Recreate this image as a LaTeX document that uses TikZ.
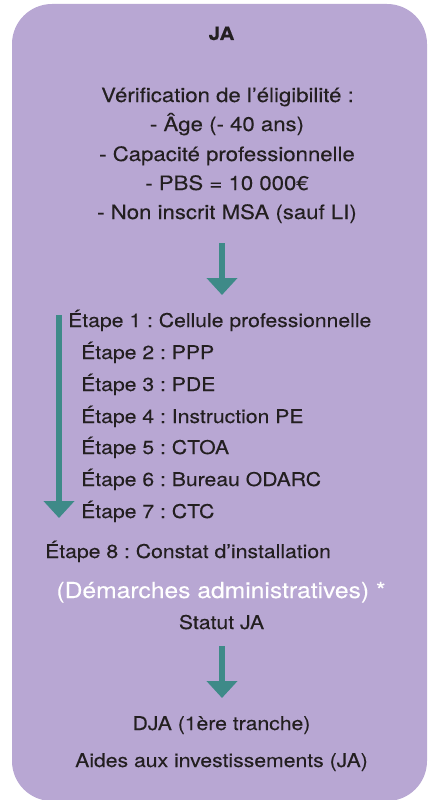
\documentclass[tikz,border=0pt]{standalone}
\usepackage{fontspec}
\setmainfont{TeX Gyre Heros}[FakeStretch=1.12, FakeBold=0.2]
\frenchspacing
\usepackage{tikz}
\usetikzlibrary{arrows.meta}
\definecolor{lavande}{HTML}{B8A7D3}
\definecolor{sarcelle}{HTML}{3E8A88}
\definecolor{texte}{HTML}{231F20}
\tikzstyle{cadre} = [fill=lavande, rounded corners=40pt]
\tikzstyle{ligne} = [anchor=base, inner sep=0pt, text=texte, font=\fontsize{18.9pt}{21pt}\selectfont]
\tikzstyle{critere} = [ligne, font=\fontsize{19.8pt}{22pt}\selectfont]
\tikzstyle{etape} = [ligne, anchor=base west]
\tikzstyle{fleche} = [line width=6pt, draw=sarcelle, -{Triangle[width=30pt,length=17pt]}]

\begin{document}
\begin{tikzpicture}[x=1pt, y=-1pt]
            \useasboundingbox (0,0) rectangle (432,800);
            \fill [cadre] (12,4) rectangle (427,801);

            \node (ja) [ligne, font=\bfseries\fontsize{18.5pt}{20pt}\selectfont] at (221.5,40) {JA};
            \node (verification) [critere] at (227.5,102) {Vérification de l’éligibilité :};
            \node (age) [critere] at (227,131) {- Âge (- 40 ans)};
            \node (capacite) [critere] at (227,161) {- Capacité professionnelle};
            \node (pbs) [critere] at (227,190) {- PBS = 10 000€};
            \node (msa) [critere] at (227,219) {- Non inscrit MSA (sauf LI)};

            \node (etape1) [etape] at (68,327) {Étape 1 : Cellule professionnelle};
            \node (etape2) [etape] at (81,359) {Étape 2 : PPP};
            \node (etape3) [etape] at (81,391) {Étape 3 : PDE};
            \node (etape4) [etape] at (81,423) {Étape 4 : Instruction PE};
            \node (etape5) [etape] at (81,454) {Étape 5 : CTOA};
            \node (etape6) [etape] at (81,486) {Étape 6 : Bureau ODARC};
            \node (etape7) [etape] at (81,518) {Étape 7 : CTC};
            \node (etape8) [etape] at (45,558) {Étape 8 : Constat d’installation};

            \node (demarches) [ligne, text=white, font=\fontsize{22pt}{24pt}\selectfont] at (221,598) {(Démarches administratives) *};
            \node (statut) [ligne] at (221.5,629) {Statut JA};
            \node (dja) [ligne] at (221.5,730) {DJA (1ère tranche)};
            \node (aides) [ligne] at (221.5,767) {Aides aux investissements (JA)};

            \coordinate (f1-debut) at (222,243);
            \coordinate (f1-fin) at (222,295);
            \coordinate (f2-debut) at (59,315);
            \coordinate (f2-fin) at (59,518);
            \coordinate (f3-debut) at (222,646);
            \coordinate (f3-fin) at (222,698);

            \draw [fleche] (f1-debut) -- (f1-fin);
            \draw [fleche] (f2-debut) -- (f2-fin);
            \draw [fleche] (f3-debut) -- (f3-fin);
        \end{tikzpicture}
\end{document}
